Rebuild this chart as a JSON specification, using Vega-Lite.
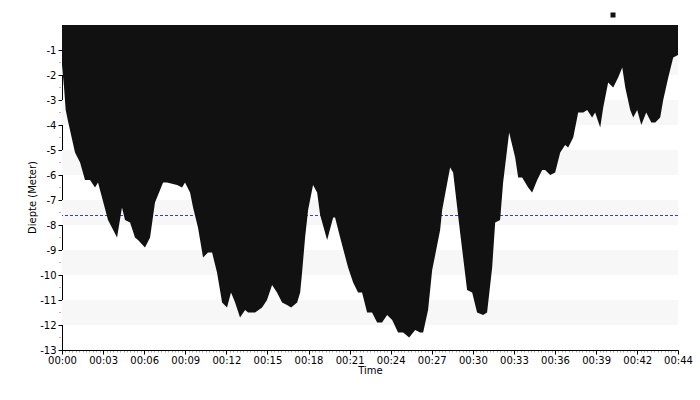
{
  "$schema": "https://vega.github.io/schema/vega-lite/v6.json",
  "width": 616,
  "height": 325,
  "autosize": {"type": "none"},
  "padding": {"left": 62, "top": 25, "right": 22, "bottom": 50},
  "config": {
    "view": {"stroke": null},
    "font": "DejaVu Sans",
    "axis": {"grid": false, "labelFontSize": 10, "titleFontSize": 10, "titleFontWeight": "normal", "labelColor": "#000", "titleColor": "#000", "domainColor": "#000", "tickColor": "#000", "labelOverlap": false, "labelFlush": false}
  },
  "datasets": {
    "bands": [
      {"lo": -2, "hi": -1}, {"lo": -4, "hi": -3}, {"lo": -6, "hi": -5},
      {"lo": -8, "hi": -7}, {"lo": -10, "hi": -9}, {"lo": -12, "hi": -11}
    ],
    "minor": [
      {"v": -12.5}, {"v": -11.5}, {"v": -10.5}, {"v": -9.5}, {"v": -8.5}, {"v": -7.5},
      {"v": -6.5}, {"v": -5.5}, {"v": -4.5}, {"v": -3.5}, {"v": -2.5}, {"v": -1.5}
    ],
    "profile": [
      {"t": 0, "d": -1.6}, {"t": 0.15, "d": -2.5}, {"t": 0.27, "d": -3.4}, {"t": 0.46, "d": -3.9},
      {"t": 0.95, "d": -5.1}, {"t": 1.32, "d": -5.5}, {"t": 1.68, "d": -6.2}, {"t": 2.05, "d": -6.2},
      {"t": 2.41, "d": -6.5}, {"t": 2.63, "d": -6.3}, {"t": 3.36, "d": -7.8}, {"t": 4.02, "d": -8.5},
      {"t": 4.38, "d": -7.3}, {"t": 4.6, "d": -7.8}, {"t": 4.97, "d": -7.9}, {"t": 5.33, "d": -8.5},
      {"t": 5.55, "d": -8.6}, {"t": 6.06, "d": -8.9}, {"t": 6.43, "d": -8.5}, {"t": 6.79, "d": -7.1},
      {"t": 7.38, "d": -6.3}, {"t": 7.67, "d": -6.3}, {"t": 8.4, "d": -6.4}, {"t": 8.77, "d": -6.5},
      {"t": 8.98, "d": -6.3}, {"t": 9.35, "d": -6.7}, {"t": 9.57, "d": -7.3}, {"t": 9.93, "d": -8.1},
      {"t": 10.3, "d": -9.3}, {"t": 10.66, "d": -9.1}, {"t": 10.96, "d": -9.1}, {"t": 11.32, "d": -9.9},
      {"t": 11.69, "d": -11.1}, {"t": 12.05, "d": -11.3}, {"t": 12.34, "d": -10.7}, {"t": 12.64, "d": -11.1},
      {"t": 13.0, "d": -11.7}, {"t": 13.37, "d": -11.4}, {"t": 13.59, "d": -11.5}, {"t": 14.1, "d": -11.5},
      {"t": 14.61, "d": -11.3}, {"t": 14.97, "d": -11.0}, {"t": 15.34, "d": -10.4}, {"t": 15.7, "d": -10.7},
      {"t": 16.07, "d": -11.1}, {"t": 16.43, "d": -11.2}, {"t": 16.73, "d": -11.3}, {"t": 17.17, "d": -11.1},
      {"t": 17.39, "d": -10.7}, {"t": 17.53, "d": -9.9}, {"t": 17.75, "d": -8.5}, {"t": 17.97, "d": -7.4},
      {"t": 18.33, "d": -6.4}, {"t": 18.63, "d": -6.7}, {"t": 18.85, "d": -7.6}, {"t": 19.36, "d": -8.6},
      {"t": 19.8, "d": -7.7}, {"t": 19.94, "d": -7.7}, {"t": 20.31, "d": -8.5}, {"t": 20.89, "d": -9.7},
      {"t": 21.26, "d": -10.3}, {"t": 21.62, "d": -10.7}, {"t": 21.91, "d": -10.7}, {"t": 22.28, "d": -11.5},
      {"t": 22.64, "d": -11.5}, {"t": 23.01, "d": -11.9}, {"t": 23.37, "d": -11.9}, {"t": 23.74, "d": -11.6},
      {"t": 24.11, "d": -11.8}, {"t": 24.54, "d": -12.3}, {"t": 24.91, "d": -12.3}, {"t": 25.35, "d": -12.5},
      {"t": 25.79, "d": -12.2}, {"t": 26.15, "d": -12.3}, {"t": 26.37, "d": -12.3}, {"t": 26.73, "d": -11.4},
      {"t": 27.03, "d": -9.8}, {"t": 27.25, "d": -9.2}, {"t": 27.61, "d": -8.2}, {"t": 27.76, "d": -7.4},
      {"t": 28.34, "d": -5.7}, {"t": 28.56, "d": -5.9}, {"t": 29.07, "d": -8.3}, {"t": 29.58, "d": -10.6},
      {"t": 29.95, "d": -10.7}, {"t": 30.31, "d": -11.5}, {"t": 30.75, "d": -11.6}, {"t": 31.04, "d": -11.5},
      {"t": 31.41, "d": -9.7}, {"t": 31.63, "d": -7.9}, {"t": 31.99, "d": -7.8}, {"t": 32.21, "d": -6.3},
      {"t": 32.65, "d": -4.3}, {"t": 33.09, "d": -5.3}, {"t": 33.31, "d": -6.1}, {"t": 33.6, "d": -6.1},
      {"t": 34.04, "d": -6.5}, {"t": 34.33, "d": -6.7}, {"t": 34.7, "d": -6.2}, {"t": 35.06, "d": -5.8},
      {"t": 35.28, "d": -5.8}, {"t": 35.65, "d": -6.0}, {"t": 36.01, "d": -5.9}, {"t": 36.38, "d": -5.1},
      {"t": 36.74, "d": -4.8}, {"t": 36.96, "d": -4.9}, {"t": 37.33, "d": -4.5}, {"t": 37.62, "d": -3.7},
      {"t": 37.69, "d": -3.5}, {"t": 38.06, "d": -3.5}, {"t": 38.35, "d": -3.4}, {"t": 38.71, "d": -3.7},
      {"t": 38.93, "d": -3.5}, {"t": 39.3, "d": -4.1}, {"t": 39.52, "d": -3.3}, {"t": 39.88, "d": -2.3},
      {"t": 40.25, "d": -2.5}, {"t": 40.61, "d": -2.1}, {"t": 40.91, "d": -1.7}, {"t": 41.13, "d": -2.5},
      {"t": 41.49, "d": -3.4}, {"t": 41.71, "d": -3.7}, {"t": 42.0, "d": -3.4}, {"t": 42.3, "d": -4.0},
      {"t": 42.66, "d": -3.5}, {"t": 43.03, "d": -3.9}, {"t": 43.32, "d": -3.9}, {"t": 43.68, "d": -3.7},
      {"t": 43.9, "d": -3.0}, {"t": 44.27, "d": -2.1}, {"t": 44.63, "d": -1.3}, {"t": 44.98, "d": -1.2}
    ]
  },
  "layer": [
    {
      "data": {"name": "bands"},
      "mark": {"type": "rect", "color": "#f7f7f7"},
      "encoding": {
        "y": {
          "field": "lo", "type": "quantitative",
          "scale": {"domain": [-13, 0], "nice": false, "zero": false},
          "title": "Diepte (Meter)",
          "axis": {"values": [-13,-12,-11,-10,-9,-8,-7,-6,-5,-4,-3,-2,-1], "labelExpr": "'' + datum.value", "labelOverlap": false, "labelFlush": false, "labelPadding": 2, "tickSize": 4, "titlePadding": 2, "titleY": 172}
        },
        "y2": {"field": "hi"}
      }
    },
    {
      "data": {"values": [{}]},
      "mark": {"type": "rule", "color": "#3a3ad0", "strokeDash": [3, 2], "strokeWidth": 1, "yOffset": 0.5},
      "encoding": {
        "y": {
          "datum": -7.6, "type": "quantitative", "title": "Diepte (Meter)",
          "axis": {"values": [-13,-12,-11,-10,-9,-8,-7,-6,-5,-4,-3,-2,-1], "labelExpr": "'' + datum.value", "labelOverlap": false, "labelFlush": false, "labelPadding": 2, "tickSize": 4, "titlePadding": 2, "titleY": 172}
        }
      }
    },
    {
      "data": {"name": "profile"},
      "mark": {"type": "area", "interpolate": "linear"},
      "encoding": {
        "x": {
          "field": "t", "type": "quantitative",
          "scale": {"domain": [0, 44.98], "nice": false, "zero": false},
          "title": "Time",
          "axis": {
            "values": [0,0.25,0.5,0.75,1,1.25,1.5,1.75,2,2.25,2.5,2.75,3,3.25,3.5,3.75,4,4.25,4.5,4.75,5,5.25,5.5,5.75,6,6.25,6.5,6.75,7,7.25,7.5,7.75,8,8.25,8.5,8.75,9,9.25,9.5,9.75,10,10.25,10.5,10.75,11,11.25,11.5,11.75,12,12.25,12.5,12.75,13,13.25,13.5,13.75,14,14.25,14.5,14.75,15,15.25,15.5,15.75,16,16.25,16.5,16.75,17,17.25,17.5,17.75,18,18.25,18.5,18.75,19,19.25,19.5,19.75,20,20.25,20.5,20.75,21,21.25,21.5,21.75,22,22.25,22.5,22.75,23,23.25,23.5,23.75,24,24.25,24.5,24.75,25,25.25,25.5,25.75,26,26.25,26.5,26.75,27,27.25,27.5,27.75,28,28.25,28.5,28.75,29,29.25,29.5,29.75,30,30.25,30.5,30.75,31,31.25,31.5,31.75,32,32.25,32.5,32.75,33,33.25,33.5,33.75,34,34.25,34.5,34.75,35,35.25,35.5,35.75,36,36.25,36.5,36.75,37,37.25,37.5,37.75,38,38.25,38.5,38.75,39,39.25,39.5,39.75,40,40.25,40.5,40.75,41,41.25,41.5,41.75,42,42.25,42.5,42.75,43,43.25,43.5,43.75,44,44.25,44.5,44.75,44.98],
            "labelExpr": "(datum.value % 3 === 0 || datum.value > 44.9) ? '00:' + (floor(datum.value) < 10 ? '0' : '') + floor(datum.value) : ''",
            "labelOverlap": false,
            "labelFlush": false,
            "labelPadding": 1,
            "tickColor": {"condition": {"test": "datum.value % 3 === 0 || datum.value > 44.9", "value": "#000"}, "value": "#b0b0b0"},
            "tickSize": {"condition": {"test": "datum.value % 3 === 0 || datum.value > 44.9", "value": 4}, "value": 2},
            "titlePadding": 0
          }
        },
        "y": {
          "field": "d", "type": "quantitative", "title": "Diepte (Meter)",
          "axis": {"values": [-13,-12,-11,-10,-9,-8,-7,-6,-5,-4,-3,-2,-1], "labelExpr": "'' + datum.value", "labelOverlap": false, "labelFlush": false, "labelPadding": 2, "tickSize": 4, "titlePadding": 2, "titleY": 172}
        },
        "y2": {"datum": 0},
        "color": {
          "datum": "Diepte",
          "scale": {"range": ["#111111"]},
          "legend": {"orient": "none", "legendX": 546, "legendY": -15, "title": null, "symbolType": "square", "symbolSize": 25, "symbolStrokeWidth": 0, "labelExpr": "''", "padding": 0}
        }
      }
    },
    {
      "data": {"name": "minor"},
      "mark": {"type": "tick", "orient": "horizontal", "color": "#f07070", "size": 2, "thickness": 1, "xOffset": -2, "clip": false},
      "encoding": {
        "x": {
          "datum": 0, "type": "quantitative", "title": "Time",
          "axis": {
            "values": [0,0.25,0.5,0.75,1,1.25,1.5,1.75,2,2.25,2.5,2.75,3,3.25,3.5,3.75,4,4.25,4.5,4.75,5,5.25,5.5,5.75,6,6.25,6.5,6.75,7,7.25,7.5,7.75,8,8.25,8.5,8.75,9,9.25,9.5,9.75,10,10.25,10.5,10.75,11,11.25,11.5,11.75,12,12.25,12.5,12.75,13,13.25,13.5,13.75,14,14.25,14.5,14.75,15,15.25,15.5,15.75,16,16.25,16.5,16.75,17,17.25,17.5,17.75,18,18.25,18.5,18.75,19,19.25,19.5,19.75,20,20.25,20.5,20.75,21,21.25,21.5,21.75,22,22.25,22.5,22.75,23,23.25,23.5,23.75,24,24.25,24.5,24.75,25,25.25,25.5,25.75,26,26.25,26.5,26.75,27,27.25,27.5,27.75,28,28.25,28.5,28.75,29,29.25,29.5,29.75,30,30.25,30.5,30.75,31,31.25,31.5,31.75,32,32.25,32.5,32.75,33,33.25,33.5,33.75,34,34.25,34.5,34.75,35,35.25,35.5,35.75,36,36.25,36.5,36.75,37,37.25,37.5,37.75,38,38.25,38.5,38.75,39,39.25,39.5,39.75,40,40.25,40.5,40.75,41,41.25,41.5,41.75,42,42.25,42.5,42.75,43,43.25,43.5,43.75,44,44.25,44.5,44.75,44.98],
            "labelExpr": "(datum.value % 3 === 0 || datum.value > 44.9) ? '00:' + (floor(datum.value) < 10 ? '0' : '') + floor(datum.value) : ''",
            "labelOverlap": false,
            "labelFlush": false,
            "labelPadding": 1,
            "tickColor": {"condition": {"test": "datum.value % 3 === 0 || datum.value > 44.9", "value": "#000"}, "value": "#b0b0b0"},
            "tickSize": {"condition": {"test": "datum.value % 3 === 0 || datum.value > 44.9", "value": 4}, "value": 2},
            "titlePadding": 0
          }
        },
        "y": {
          "field": "v", "type": "quantitative", "title": "Diepte (Meter)",
          "axis": {"values": [-13,-12,-11,-10,-9,-8,-7,-6,-5,-4,-3,-2,-1], "labelExpr": "'' + datum.value", "labelOverlap": false, "labelFlush": false, "labelPadding": 2, "tickSize": 4, "titlePadding": 2, "titleY": 172}
        }
      }
    }
  ]
}
